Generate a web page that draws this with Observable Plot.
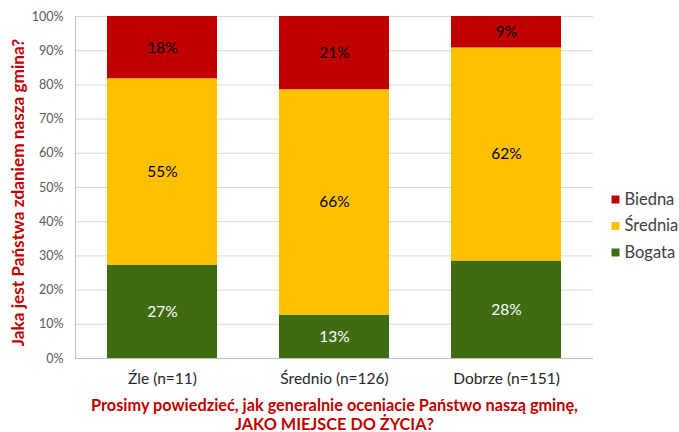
<!DOCTYPE html>
<html>
<head>
<meta charset="utf-8">
<script src="https://cdn.jsdelivr.net/npm/d3@7"></script>
<script src="https://cdn.jsdelivr.net/npm/@observablehq/plot@0.6"></script>
<style>
  html, body { margin: 0; padding: 0; background: #fff; }
  #chart svg { display: block; }
</style>
</head>
<body>
<div id="chart"></div>
<script>
const categories = ["Źle (n=11)", "Średnio (n=126)", "Dobrze (n=151)"];
const series = ["Bogata", "Średnia", "Biedna"];
const bogata = [27.3, 12.7, 28.5];
const srednia = [54.5, 65.9, 62.3];
const biedna = [18.2, 21.4, 9.2];
const labelsBogata = ["27%", "13%", "28%"];
const labelsSrednia = ["55%", "66%", "62%"];
const labelsBiedna = ["18%", "21%", "9%"];
const colors = ["#3F6B12", "#FFC000", "#C00000"];
const yTicks = [0, 10, 20, 30, 40, 50, 60, 70, 80, 90, 100];
const yTitle = "Jaka jest Państwa zdaniem nasza gmina?";
const xTitle = "Prosimy powiedzieć, jak generalnie oceniacie Państwo naszą gminę,\nJAKO MIEJSCE DO ŻYCIA?";

const values = [bogata, srednia, biedna];
const labels = [labelsBogata, labelsSrednia, labelsBiedna];
const data = [];
series.forEach((s, si) => categories.forEach((c, ci) => data.push({cat: c, series: s, value: values[si][ci], label: labels[si][ci]})));

const font = "Lato, 'Open Sans', sans-serif";
const legendMarks = [];
[...series].reverse().forEach((s, i) => {
  const dy = 12 + i * 26.5;
  legendMarks.push(Plot.dot([s], {frameAnchor: "right", dx: 22, dy, symbol: "square", r: 4.5, fill: colors[series.indexOf(s)], stroke: "none"}));
  legendMarks.push(Plot.text([s], {frameAnchor: "right", dx: 31, dy, text: d => d, textAnchor: "start", fontSize: 16.5, fill: "#404040"}));
});

const chart = Plot.plot({
  width: 679,
  height: 432,
  marginLeft: 75,
  marginRight: 86,
  marginTop: 16,
  marginBottom: 74,
  style: {fontFamily: font, background: "#fff"},
  x: {domain: categories, paddingInner: 0.36, paddingOuter: 0.18, label: null},
  y: {domain: [0, 100], label: null},
  color: {domain: series, range: colors},
  marks: [
    Plot.gridY(yTicks, {stroke: "#d9d9d9", strokeOpacity: 1}),
    Plot.barY(data, {x: "cat", y: "value", fill: "series", order: series}),
    Plot.ruleY([0], {stroke: "#bfbfbf"}),
    Plot.frame({anchor: "left", stroke: "#bfbfbf"}),
    Plot.axisY(yTicks, {tickSize: 0, tickPadding: 12, tickFormat: d => d + "%", fontSize: 12.5, fill: "#595959", label: null}),
    Plot.axisX({tickSize: 0, tickPadding: 14, fontSize: 15.5, fill: "#262626", label: null}),
    Plot.text(data, Plot.stackY({x: "cat", y: "value", z: "series", text: d => d.series !== "Bogata" ? d.label : "", order: series, fontSize: 15.5, fill: "black"})),
    Plot.text(data, Plot.stackY({x: "cat", y: "value", z: "series", text: d => d.series === "Bogata" ? d.label : "", order: series, fontSize: 15.5, fill: "white"})),
    Plot.text([yTitle], {frameAnchor: "left", dx: -57, dy: 5, rotate: -90, textAnchor: "middle", text: d => d, fill: "#C00000", fontWeight: "bold", fontSize: 17.2}),
    Plot.text([xTitle], {frameAnchor: "bottom", dy: 40, lineAnchor: "top", lineHeight: 1.12, text: d => d, fill: "#C00000", fontWeight: "bold", fontSize: 16.3}),
    ...legendMarks
  ]
});
document.getElementById("chart").append(chart);
</script>
</body>
</html>
